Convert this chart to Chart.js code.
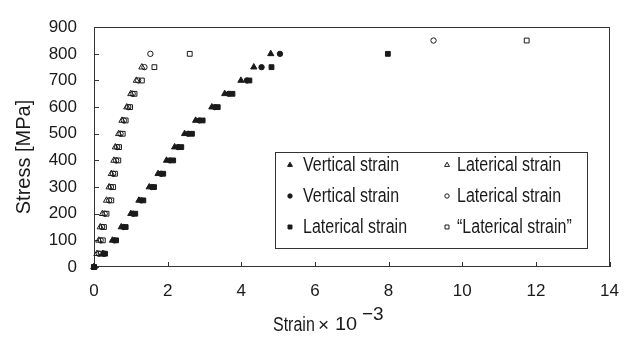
<!DOCTYPE html>
<html>
<head>
<meta charset="utf-8">
<script src="https://cdn.jsdelivr.net/npm/chart.js@4/dist/chart.umd.min.js"></script>
<style>
html,body{margin:0;padding:0;background:#fff;}
#wrap{width:633px;height:338px;position:relative;}
</style>
</head>
<body>
<div id="wrap"><canvas id="c" width="633" height="338"></canvas></div>
<script>
// ---- data (stress in MPa, strain x 10^-3) ----
const stressFilled = [0,50,100,150,200,250,300,350,400,450,500,550,600,650,700,750,800];
const vertTriStrain  = [0,0.24,0.50,0.74,1.00,1.22,1.50,1.74,1.97,2.19,2.46,2.76,3.20,3.55,3.99,4.34,4.80];
const vertCircStrain = [0,0.27,0.55,0.80,1.06,1.28,1.57,1.82,2.06,2.28,2.56,2.86,3.28,3.66,4.15,4.55,5.05];
const latSqStrain    = [0,0.30,0.60,0.86,1.12,1.34,1.63,1.88,2.15,2.37,2.66,2.95,3.36,3.76,4.22,4.82,7.98];

const stressOpenTri = [0,50,100,150,200,250,300,350,400,450,500,550,600,650,700,750];
const latTriStrain  = [0,0.08,0.13,0.17,0.23,0.34,0.41,0.47,0.54,0.58,0.67,0.76,0.89,1.00,1.15,1.30];
const stressOpen    = [0,50,100,150,200,250,300,350,400,450,500,550,600,650,700,750,800,850];
const latCircStrain = [0,0.13,0.18,0.22,0.29,0.41,0.46,0.52,0.60,0.63,0.72,0.81,0.93,1.05,1.20,1.37,1.53,9.22];
const latOpenSqStrain = [0,0.18,0.24,0.27,0.34,0.47,0.52,0.57,0.66,0.68,0.78,0.86,0.98,1.10,1.30,1.64,2.60,11.75];

const seriesLabels = ['Vertical strain','Laterical strain','Vertical strain','Laterical strain','Laterical strain','\u201cLaterical strain\u201d'];
const xTickValues = [0,2,4,6,8,10,12,14];
const yTickValues = [0,100,200,300,400,500,600,700,800,900];
const xTitleMain = 'Strain';
const xTitleTimes = '\u00d7';
const xTitleTen = '10';
const xTitleSup = '\u22123';
const yTitle = 'Stress [MPa]';

const pts = (xs, ys) => xs.map((v,i) => ({x: v, y: ys[i]}));
const INK = '#1a1a1a';
const REG = '"Liberation Sans", Arial, sans-serif';

function ds(label, data, style, filled, r) {
  return {
    label, data,
    pointStyle: style,
    pointRadius: r,
    pointHoverRadius: r,
    pointBorderWidth: 1,
    borderColor: INK,
    backgroundColor: filled ? INK : 'rgba(255,255,255,0)',
    pointBackgroundColor: filled ? INK : 'rgba(255,255,255,0)',
    pointBorderColor: INK,
    showLine: false,
    clip: false
  };
}

const datasets = [
  ds(seriesLabels[0], pts(vertTriStrain, stressFilled), 'triangle', true, 3.6),
  ds(seriesLabels[1], pts(latTriStrain, stressOpenTri), 'triangle', false, 3.6),
  ds(seriesLabels[2], pts(vertCircStrain, stressFilled), 'circle', true, 2.7),
  ds(seriesLabels[3], pts(latCircStrain, stressOpen), 'circle', false, 2.7),
  ds(seriesLabels[4], pts(latSqStrain, stressFilled), 'rect', true, 3.4),
  ds(seriesLabels[5], pts(latOpenSqStrain, stressOpen), 'rect', false, 3.4)
];

// draw text horizontally condensed (tall, narrow look of the original font)
function narrowText(ctx, text, x, y, size, sx) {
  ctx.save();
  ctx.translate(x, y);
  ctx.scale(sx, 1);
  ctx.font = size + 'px ' + REG;
  ctx.textAlign = 'left';
  ctx.textBaseline = 'middle';
  ctx.fillText(text, 0, 0);
  ctx.restore();
}

const decor = {
  id: 'decor',
  beforeDatasetsDraw(chart) {
    const {ctx, chartArea: a, scales: {x, y}} = chart;
    ctx.save();
    ctx.strokeStyle = '#333';
    ctx.lineWidth = 1;
    ctx.strokeRect(Math.round(a.left) + 0.5, Math.round(a.top) + 0.5,
                   Math.round(a.right - a.left) - 1, Math.round(a.bottom - a.top) - 1);
    ctx.beginPath();
    y.ticks.forEach(t => {
      const py = Math.round(y.getPixelForValue(t.value)) + 0.5;
      ctx.moveTo(a.left, py); ctx.lineTo(a.left + 5, py);
    });
    x.ticks.forEach(t => {
      const px = Math.round(x.getPixelForValue(t.value)) + 0.5;
      ctx.moveTo(px, a.bottom); ctx.lineTo(px, a.bottom - 5);
    });
    ctx.stroke();
    ctx.restore();
  },
  afterDraw(chart) {
    const {ctx} = chart;
    ctx.save();
    ctx.fillStyle = INK;
    // y title
    ctx.save();
    ctx.translate(24, 157);
    ctx.rotate(-Math.PI / 2);
    ctx.font = '20px ' + REG;
    ctx.textAlign = 'center';
    ctx.textBaseline = 'middle';
    ctx.fillText(yTitle, 0, 0);
    ctx.restore();
    // x title
    narrowText(ctx, xTitleMain, 273, 325, 20, 0.8);
    narrowText(ctx, xTitleTimes, 318, 326, 19, 1.0);
    narrowText(ctx, xTitleTen, 335, 325, 19, 1.05);
    narrowText(ctx, xTitleSup, 362, 315, 19, 1.0);
    // legend
    const L = 275, T = 152, W = 312, H = 96;
    ctx.fillStyle = '#fff';
    ctx.fillRect(L, T, W, H);
    ctx.strokeStyle = '#333';
    ctx.lineWidth = 1;
    ctx.strokeRect(L + 0.5, T + 0.5, W, H);
    const colMarker = [290, 447], colText = [303, 457], rowY = [165, 196, 227];
    chart.data.datasets.forEach((d, i) => {
      const c = i % 2, r = Math.floor(i / 2);
      ctx.fillStyle = d.pointBackgroundColor;
      ctx.strokeStyle = d.pointBorderColor;
      ctx.lineWidth = 1;
      Chart.helpers.drawPoint(ctx, {pointStyle: d.pointStyle, radius: d.pointStyle === 'circle' ? 2.2 : 2.8, rotation: 0, borderWidth: 1}, colMarker[c], rowY[r]);
      ctx.fillStyle = INK;
      narrowText(ctx, d.label, colText[c], rowY[r], 20, 0.8);
    });
    ctx.restore();
  }
};

new Chart(document.getElementById('c'), {
  type: 'scatter',
  data: { datasets },
  options: {
    responsive: false,
    animation: false,
    devicePixelRatio: 1,
    layout: { padding: { left: 0, top: 12, right: 21, bottom: 0 } },
    plugins: { legend: { display: false }, tooltip: { enabled: false } },
    scales: {
      x: {
        type: 'linear', min: 0, max: 14,
        afterFit: s => { s.height = 71; },
        afterBuildTicks: s => { s.ticks = xTickValues.map(v => ({value: v})); },
        grid: { display: false, drawTicks: false },
        border: { display: false },
        ticks: { padding: 14, color: INK, font: { family: REG, size: 17 }, maxRotation: 0, autoSkip: false }
      },
      y: {
        type: 'linear', min: 0, max: 900,
        afterFit: s => { s.width = 94; },
        afterBuildTicks: s => { s.ticks = yTickValues.map(v => ({value: v})); },
        grid: { display: false, drawTicks: false },
        border: { display: false },
        ticks: { padding: 17, color: INK, font: { family: REG, size: 17 }, autoSkip: false }
      }
    }
  },
  plugins: [decor]
});
</script>
</body>
</html>
